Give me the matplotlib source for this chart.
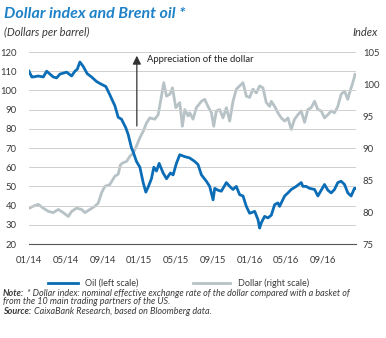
import matplotlib
matplotlib.use("Agg")
import matplotlib.pyplot as plt

FONT = ["Lato", "DejaVu Sans"]
plt.rcParams["font.family"] = FONT

# Months elapsed since January 2014
oil_month = [0.0, 0.3, 0.47, 1.0, 1.56, 1.92, 2.28, 2.64, 3.0, 3.37, 3.73, 4.1, 4.64, 5.0,
             5.25, 5.54, 5.9, 6.34, 6.81, 7.36, 7.72, 8.37, 8.8, 9.35, 9.71, 10.07, 10.54,
             10.8, 11.16, 11.34, 11.7, 12.07, 12.43, 12.72, 12.97, 13.33, 13.59, 13.88,
             14.17, 14.6, 14.97, 15.4, 15.69, 16.05, 16.41, 16.96, 17.5, 18.04, 18.4,
             18.77, 19.31, 19.67, 20.04, 20.22, 20.58, 20.94, 21.49, 21.85, 22.21, 22.57,
             22.93, 23.3, 23.66, 24.02, 24.57, 24.93, 25.11, 25.29, 25.65, 26.01, 26.38,
             26.74, 27.1, 27.28, 27.83, 28.19, 28.55, 29.09, 29.64, 29.82, 30.18, 30.54,
             31.09, 31.45, 31.81, 32.17, 32.54, 32.9, 33.26, 33.62, 33.98, 34.35, 34.71,
             35.07, 35.43, 35.6]
# Brent, dollars per barrel
oil_price = [110, 107, 107, 107.5, 107, 110, 108.5, 107, 106.5, 108.5, 109, 109.5, 107.5, 110,
             111, 114.8, 112.5, 108.7, 107, 104.6, 103.6, 102, 97.7, 92, 86, 85, 80.5,
             77, 70, 68, 63, 60, 52, 47, 49.6, 54, 60, 58,
             62, 57, 54, 57, 56, 62, 66.5, 65.5, 64.8, 63, 61.4,
             56, 52.7, 50, 43, 49, 48, 47.5, 52, 50, 48.4, 50,
             45.7, 45, 39.6, 36, 37, 32.7, 28.3, 31, 34.4, 33.6, 35,
             40.5, 41.4, 39.6, 45, 46.6, 48.4, 50, 52, 50, 50, 49,
             48.4, 45, 48, 51, 48, 46.6, 48.4, 52, 52.7, 51, 46.6,
             45, 49, 49]

dollar_month = [0.03, 0.47, 1.0, 1.56, 2.1, 2.64, 3.19, 3.73, 4.28, 4.64, 5.18, 5.72, 6.09,
                6.63, 7.17, 7.54, 7.9, 8.26, 8.8, 9.35, 9.71, 9.96, 10.25, 10.62, 10.98,
                11.34, 11.7, 12.07, 12.43, 12.79, 13.15, 13.7, 14.06, 14.42, 14.67, 14.97,
                15.33, 15.62, 15.98, 16.41, 16.7, 16.96, 17.32, 17.5, 17.86, 18.22, 18.77,
                19.13, 19.49, 19.86, 20.11, 20.4, 20.76, 21.12, 21.49, 21.85, 22.21, 22.57,
                22.93, 23.3, 23.66, 24.02, 24.38, 24.75, 25.11, 25.47, 25.83, 26.2, 26.38,
                26.74, 27.1, 27.46, 27.83, 28.19, 28.55, 28.91, 29.28, 29.64, 30.0, 30.36,
                30.72, 31.09, 31.45, 31.81, 32.17, 32.54, 32.9, 33.26, 33.62, 33.98, 34.35,
                34.71, 34.89, 35.25, 35.5]
# Nominal effective dollar index
dollar_index = [80.6, 80.9, 81.2, 80.6, 80.1, 79.9, 80.4, 79.9, 79.3, 80.1, 80.6, 80.4, 79.9,
                80.4, 80.9, 81.4, 83, 84, 84.3, 85.6, 85.9, 87.4, 87.7, 87.9, 88.7,
                89.2, 90.3, 91.6, 92.6, 93.9, 94.7, 94.5, 95.2, 98.1, 100.2, 98.1,
                98.4, 99.4, 96.3, 97.1, 93.4, 96, 95, 95.5, 94.5, 96.3, 97.3,
                97.6, 96.5, 95.5, 93.4, 95.8, 96, 94.7, 96.3, 94.2, 97.3, 99.2,
                99.7, 100.2, 98.1, 97.9, 99.2, 98.6, 99.7, 99.4, 97.1, 96.5, 97.3,
                96.5, 95.5, 94.7, 94.2, 94.7, 92.9, 94.5, 95.2, 95.8, 94, 96,
                96.3, 97.3, 96, 95.8, 94.7, 95.2, 95.8, 95.5, 96.5, 98.4, 98.9,
                97.6, 98.6, 100.2, 101.5]

tick_months = [0, 4, 8, 12, 16, 20, 24, 28, 32]
tick_labels = ["01/14", "05/14", "09/14", "01/15", "05/15", "09/15", "01/16", "05/16", "09/16"]
oil_ticks = [20, 30, 40, 50, 60, 70, 80, 90, 100, 110, 120]
dollar_ticks = [75, 80, 85, 90, 95, 100, 105]

OIL_BLUE = "#0b6db6"
DOLLAR_GREY = "#b7c2c6"
TITLE_BLUE = "#1f82c9"
TEXT = "#3a3a3a"

W, H = 386, 338
fig = plt.figure(figsize=(W / 100, H / 100), dpi=100)
ax = fig.add_axes([29 / W, 1 - 244 / H, (356 - 29) / W, (244 - 52) / H])
ax2 = ax.twinx()
ax.set_zorder(ax2.get_zorder() + 1)
ax.patch.set_visible(False)

ax2.plot(dollar_month, dollar_index, color=DOLLAR_GREY, lw=2.0, solid_joinstyle="round")
ax.plot(oil_month, oil_price, color=OIL_BLUE, lw=2.0, solid_joinstyle="round")

ax.set_xlim(0, 35.6)
ax.set_ylim(20, 120)
ax2.set_ylim(75, 105)
ax.set_yticks(oil_ticks)
ax2.set_yticks(dollar_ticks)
ax.set_xticks(tick_months)
ax.set_xticklabels(tick_labels)

ax.grid(axis="y", color="#cfcfcf", lw=0.7)
ax.set_axisbelow(True)
for a in (ax, ax2):
    for s in a.spines.values():
        s.set_visible(False)
ax.spines["bottom"].set_visible(True)
ax.spines["bottom"].set_color("#555555")
ax.spines["bottom"].set_linewidth(0.8)
ax.tick_params(axis="both", length=0, labelsize=6.8, colors=TEXT)
ax.tick_params(axis="y", pad=9)
ax.tick_params(axis="x", pad=8)
ax2.tick_params(axis="y", length=0, labelsize=6.8, colors=TEXT, pad=5)

# Appreciation arrow
ax.annotate("", xy=(11.74, 119.5), xytext=(11.74, 80),
            arrowprops=dict(arrowstyle="-|>,head_width=0.25,head_length=0.5",
                            color="#333333", lw=0.9))
ax.text(12.9, 116.3, "Appreciation of the dollar", fontsize=6.8, color="#222222",
        va="center", ha="left")

fig.text(4 / W, 1 - 14 / H, "Dollar index and Brent oil *", fontsize=11.5, fontweight="bold",
         fontstyle="italic", color=TITLE_BLUE, va="center", ha="left")
fig.text(4 / W, 1 - 32 / H, "(Dollars per barrel)", fontsize=8, fontstyle="italic",
         color=TEXT, va="center", ha="left")
fig.text(378 / W, 1 - 32 / H, "Index", fontsize=8, fontstyle="italic",
         color=TEXT, va="center", ha="right")

# Legend drawn below the plot
fig.lines.append(plt.Line2D([48 / W, 78 / W], [1 - 283 / H] * 2, transform=fig.transFigure,
                            color=OIL_BLUE, lw=2))
fig.text(85 / W, 1 - 283 / H, "Oil (left scale)", fontsize=6.5, color=TEXT,
         va="center", ha="left")
fig.lines.append(plt.Line2D([193 / W, 230 / W], [1 - 283 / H] * 2, transform=fig.transFigure,
                            color=DOLLAR_GREY, lw=2))
fig.text(238 / W, 1 - 283 / H, "Dollar (right scale)", fontsize=6.5, color=TEXT,
         va="center", ha="left")

# Footnotes: bold lead-in followed by italic body
NOTE_SIZE = 6.5


def footnote(y_px, lead, body):
    y = 1 - y_px / H
    if lead:
        t = fig.text(3 / W, y, lead, fontsize=NOTE_SIZE, fontstyle="italic",
                     fontweight="bold", color=TEXT, va="center", ha="left")
        ax.annotate(body, xy=(1, 0.5), xycoords=t, xytext=(2, 0), textcoords="offset points",
                    fontsize=NOTE_SIZE, fontstyle="italic", color=TEXT,
                    va="center", ha="left", annotation_clip=False)
    else:
        fig.text(3 / W, y, body, fontsize=NOTE_SIZE, fontstyle="italic",
                 color=TEXT, va="center", ha="left")


footnote(293, "Note:",
         "* Dollar index: nominal effective exchange rate of the dollar compared with a basket of")
footnote(302, None, "from the 10 main trading partners of the US.")
footnote(311, "Source:", "CaixaBank Research, based on Bloomberg data.")

fig.savefig("out.png", dpi=100)
